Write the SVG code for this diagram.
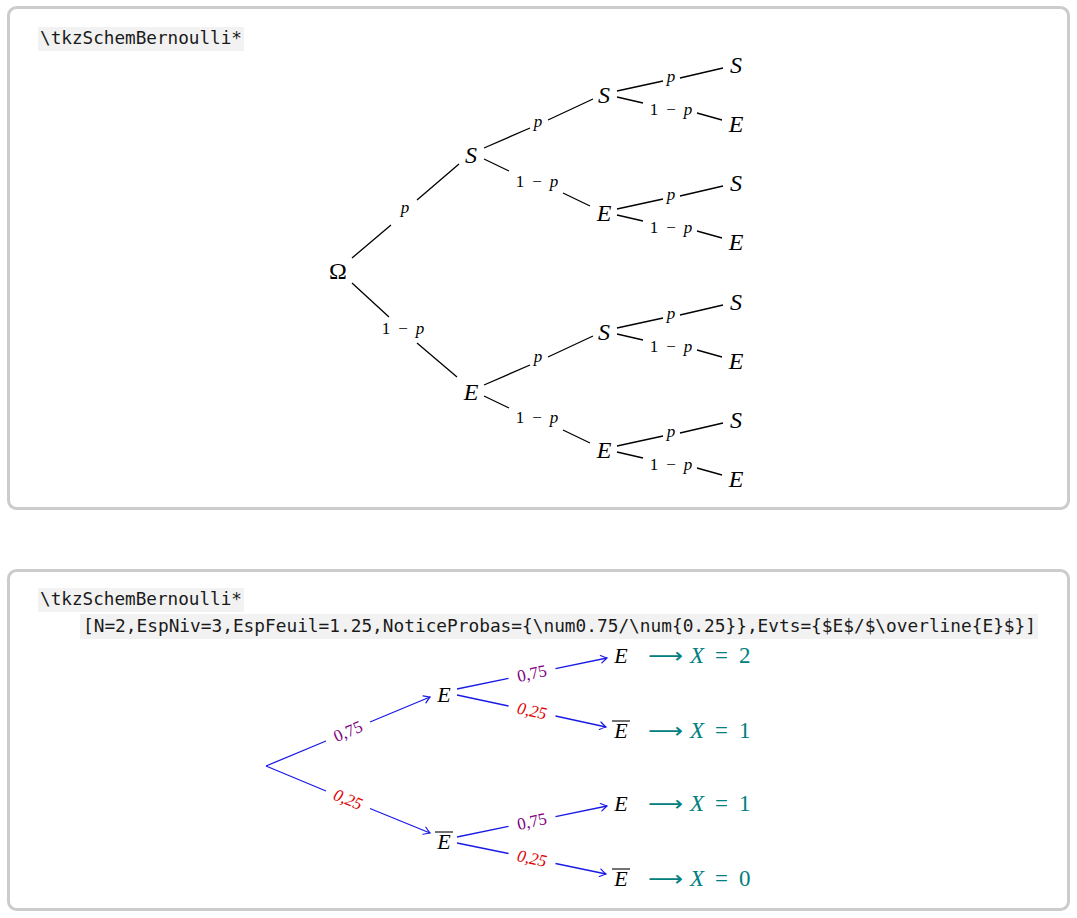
<svg xmlns="http://www.w3.org/2000/svg" width="1077" height="918" viewBox="0 0 1077 918">
<style>
.box{fill:#fff;stroke:#cccccc;stroke-width:3}
.codebg{fill:#f2f2f2}
.code{font-family:"DejaVu Sans Mono","Liberation Mono",monospace;font-size:18px;fill:#1a1a1a}
.node{font-family:"Liberation Serif","DejaVu Serif",serif;font-style:italic;font-size:24px;fill:#000;text-anchor:middle}
.up{font-style:normal}
.lbl{font-family:"Liberation Serif","DejaVu Serif",serif;font-size:17px;fill:#000;text-anchor:middle}
.it{font-style:italic}
.e{stroke:#000;stroke-width:1.3;fill:none}
.b{stroke:#1a1ae6;stroke-width:1.3;fill:none}
.ba{stroke:#1a1ae6;stroke-width:1.3;fill:none;marker-end:url(#arr)}
.bn{font-family:"Liberation Serif","DejaVu Serif",serif;font-style:italic;font-size:22px;fill:#000;text-anchor:middle}
.ov{stroke:#000;stroke-width:1.1}
.pl{font-family:"Liberation Serif","DejaVu Serif",serif;font-size:17px;fill:#800080;text-anchor:middle}
.rl{font-family:"Liberation Serif","DejaVu Serif",serif;font-size:17px;font-style:italic;fill:#e00000;text-anchor:middle}
.res{font-family:"Liberation Serif","DejaVu Serif",serif;font-size:23px;fill:#008080}
.arrw{font-family:"DejaVu Sans",sans-serif;font-size:21px;fill:#008080}
</style>
<defs>
<marker id="arr" markerUnits="userSpaceOnUse" markerWidth="12" markerHeight="12" refX="0" refY="0" viewBox="-8 -6 10 12" orient="auto">
<path d="M -6 -3.8 Q -2 -1 0 0 Q -2 1 -6 3.8" stroke="#1a1ae6" stroke-width="1.2" fill="none" stroke-linecap="round"/>
</marker>
</defs>
<rect x="0" y="0" width="1077" height="918" fill="#fff"/>

<g id="panel1">
<rect class="box" x="8.5" y="7.5" width="1060" height="501" rx="8"/>
<rect class="codebg" x="38" y="27" width="206" height="24"/>
<text class="code" x="40" y="44" textLength="202" lengthAdjust="spacingAndGlyphs">\tkzSchemBernoulli*</text>
</g>

<g id="connectors-top">
<path class="e" d="M352 258 L391 225 M417 200 L459 164"/>
<path class="e" d="M352 283 L389 317 M417 343 L457 377"/>
<path class="e" d="M484 148 L530 128 M548 120 L593 99"/>
<path class="e" d="M484 159 L509 171 M563 193 L590 206"/>
<path class="e" d="M484 385 L530 365 M548 357 L593 336"/>
<path class="e" d="M484 396 L509 408 M563 430 L590 443"/>
<path class="e" d="M617 91 L663 81 M680 78 L723 68 M617 97 L643 103 M697 113 L722 120"/>
<path class="e" d="M617 209 L663 199 M680 196 L723 186 M617 215 L643 221 M697 231 L722 238"/>
<path class="e" d="M617 328 L663 318 M680 315 L723 305 M617 334 L643 340 M697 350 L722 357"/>
<path class="e" d="M617 446 L663 436 M680 433 L723 423 M617 452 L643 458 M697 468 L722 475"/>
<text class="lbl it" x="405" y="213">p</text>
<text class="lbl" y="334"><tspan x="386">1</tspan><tspan x="403">−</tspan><tspan x="420" class="it">p</tspan></text>
<text class="lbl it" x="538" y="127">p</text>
<text class="lbl" y="187"><tspan x="520">1</tspan><tspan x="537">−</tspan><tspan x="554" class="it">p</tspan></text>
<text class="lbl it" x="538" y="362">p</text>
<text class="lbl" y="423"><tspan x="520">1</tspan><tspan x="537">−</tspan><tspan x="554" class="it">p</tspan></text>
<text class="lbl it" x="671" y="82">p</text>
<text class="lbl" y="115"><tspan x="654">1</tspan><tspan x="671">−</tspan><tspan x="688" class="it">p</tspan></text>
<text class="lbl it" x="671" y="200">p</text>
<text class="lbl" y="233"><tspan x="654">1</tspan><tspan x="671">−</tspan><tspan x="688" class="it">p</tspan></text>
<text class="lbl it" x="671" y="319">p</text>
<text class="lbl" y="352"><tspan x="654">1</tspan><tspan x="671">−</tspan><tspan x="688" class="it">p</tspan></text>
<text class="lbl it" x="671" y="437">p</text>
<text class="lbl" y="470"><tspan x="654">1</tspan><tspan x="671">−</tspan><tspan x="688" class="it">p</tspan></text>
</g>

<g id="n-omega"><text class="node up" x="338" y="279">Ω</text></g>
<g id="n-S1"><text class="node" x="471" y="163">S</text></g>
<g id="n-E1"><text class="node" x="471" y="400">E</text></g>
<g id="n-SS"><text class="node" x="604" y="103">S</text></g>
<g id="n-SE"><text class="node" x="604" y="221">E</text></g>
<g id="n-ES"><text class="node" x="604" y="340">S</text></g>
<g id="n-EE"><text class="node" x="604" y="458">E</text></g>
<g id="leaf1"><text class="node" x="736" y="73">S</text></g>
<g id="leaf2"><text class="node" x="736" y="132">E</text></g>
<g id="leaf3"><text class="node" x="736" y="191">S</text></g>
<g id="leaf4"><text class="node" x="736" y="250">E</text></g>
<g id="leaf5"><text class="node" x="736" y="310">S</text></g>
<g id="leaf6"><text class="node" x="736" y="369">E</text></g>
<g id="leaf7"><text class="node" x="736" y="428">S</text></g>
<g id="leaf8"><text class="node" x="736" y="487">E</text></g>

<g id="panel2">
<rect class="box" x="8.5" y="570.5" width="1060" height="339" rx="8"/>
<rect class="codebg" x="38" y="588" width="206" height="24"/>
<text class="code" x="40" y="605" textLength="202" lengthAdjust="spacingAndGlyphs">\tkzSchemBernoulli*</text>
<rect class="codebg" x="80" y="614" width="958" height="25"/>
<text class="code" x="83" y="632" textLength="953" lengthAdjust="spacingAndGlyphs">[N=2,EspNiv=3,EspFeuil=1.25,NoticeProbas={\num0.75/\num{0.25}},Evts={$E$/$\overline{E}$}]</text>
</g>

<g id="connectors-bottom">
<path class="b" d="M266 766 L326 741"/>
<path class="ba" d="M370 722 L430 697"/>
<path class="b" d="M266 766 L326 791"/>
<path class="ba" d="M370 808.5 L430 833"/>
<path class="b" d="M457 689 L508.5 678.3"/>
<path class="ba" d="M555.5 668.7 L607 658"/>
<path class="b" d="M457 695 L508.5 706"/>
<path class="ba" d="M555.5 716 L606 727"/>
<path class="b" d="M457 837 L508.5 826.3"/>
<path class="ba" d="M555.5 816.7 L607 806"/>
<path class="b" d="M457 843 L508.5 853.5"/>
<path class="ba" d="M555.5 863.5 L606 874"/>
<text class="pl" transform="translate(348 731.5) rotate(-22.8)" y="5.5">0,75</text>
<text class="rl" transform="translate(348 799.5) rotate(22.2)" y="5.5">0,25</text>
<text class="pl" transform="translate(532 673.5) rotate(-11.7)" y="5.5">0,75</text>
<text class="rl" transform="translate(532 711) rotate(12.1)" y="5.5">0,25</text>
<text class="pl" transform="translate(532 821.5) rotate(-11.7)" y="5.5">0,75</text>
<text class="rl" transform="translate(532 858.5) rotate(12.1)" y="5.5">0,25</text>
</g>

<g id="b-E1"><text class="bn" x="444" y="702">E</text></g>
<g id="b-Ebar1"><text class="bn" x="444" y="849">E</text><line class="ov" x1="435" y1="832" x2="453" y2="832"/></g>
<g id="b-leaf1"><text class="bn" x="621" y="663">E</text>
<text class="arrw" x="648" y="663" textLength="35" lengthAdjust="spacingAndGlyphs">⟶</text>
<text class="res" y="663"><tspan x="690" font-style="italic">X</tspan><tspan x="715">=</tspan><tspan x="739">2</tspan></text></g>
<g id="b-leaf2"><text class="bn" x="621" y="738">E</text><line class="ov" x1="612" y1="721" x2="630" y2="721"/>
<text class="arrw" x="648" y="738" textLength="35" lengthAdjust="spacingAndGlyphs">⟶</text>
<text class="res" y="738"><tspan x="690" font-style="italic">X</tspan><tspan x="715">=</tspan><tspan x="739">1</tspan></text></g>
<g id="b-leaf3"><text class="bn" x="621" y="811">E</text>
<text class="arrw" x="648" y="811" textLength="35" lengthAdjust="spacingAndGlyphs">⟶</text>
<text class="res" y="811"><tspan x="690" font-style="italic">X</tspan><tspan x="715">=</tspan><tspan x="739">1</tspan></text></g>
<g id="b-leaf4"><text class="bn" x="621" y="886">E</text><line class="ov" x1="612" y1="869" x2="630" y2="869"/>
<text class="arrw" x="648" y="886" textLength="35" lengthAdjust="spacingAndGlyphs">⟶</text>
<text class="res" y="886"><tspan x="690" font-style="italic">X</tspan><tspan x="715">=</tspan><tspan x="739">0</tspan></text></g>
</svg>
